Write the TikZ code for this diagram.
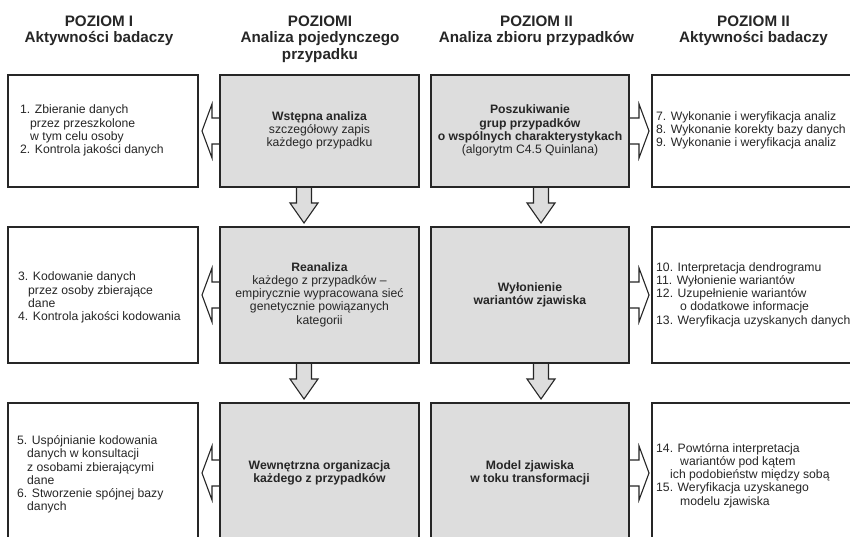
\documentclass[tikz,border=0pt]{standalone}
\usepackage{fontspec}
\setmainfont{Liberation Sans}
\usetikzlibrary{calc}
\pgfdeclarelayer{bg}
\pgfsetlayers{bg,main}
\definecolor{boxgray}{HTML}{DDDDDD}
\definecolor{edgecol}{HTML}{262626}
\setlength{\lineskiplimit}{-20pt}
\newcommand{\bodyfont}{\fontsize{12.2}{13.3}\selectfont}
\tikzset{
  panel/.style={draw=edgecol, line width=1.8pt, inner sep=0pt, outer sep=0pt, anchor=north west},
  whitepanel/.style={panel, fill=white},
  graypanel/.style={panel, fill=boxgray},
  hdr/.style={font=\fontsize{15.2}{16.5}\selectfont\bfseries, align=center, anchor=north, inner sep=0pt, text=edgecol, yshift=11.55pt},
  listtxt/.style={font=\bodyfont, align=left, anchor=west, inner sep=0pt, text=edgecol},
  midtxt/.style={font=\bodyfont, align=center, anchor=center, inner sep=0pt, text=edgecol},
  sidearrow/.style={draw=edgecol, line width=1.1pt, fill=white, line join=miter},
  downarrow/.style={draw=edgecol, line width=1.1pt, fill=boxgray, line join=miter},
}
\begin{document}
\begin{tikzpicture}[x=1pt,y=-1pt]
\useasboundingbox (0,0) rectangle (850,536);
\clip (0,0) rectangle (850,536);
\begin{pgfonlayer}{bg}
\fill[white] (0,0) rectangle (850,536);
\end{pgfonlayer}

% headers
\node[hdr] (h1) at (99,26) {\strut POZIOM I\\Aktywności badaczy};
\node[hdr] (h2) at (320,26) {\strut POZIOMI\\Analiza pojedynczego\\przypadku};
\node[hdr] (h3) at (536.5,26) {\strut POZIOM II\\Analiza zbioru przypadków};
\node[hdr] (h4) at (753.5,26) {\strut POZIOM II\\Aktywności badaczy};

% panels
\node[whitepanel, minimum width=190pt, minimum height=112pt] (a1) at (8,75) {};
\node[graypanel,  minimum width=199pt, minimum height=112pt] (b1) at (220,75) {};
\node[graypanel,  minimum width=198pt, minimum height=112pt] (c1) at (431,75) {};
\node[whitepanel, minimum width=220pt, minimum height=112pt] (d1) at (652,75) {};

\node[whitepanel, minimum width=190pt, minimum height=136pt] (a2) at (8,227) {};
\node[graypanel,  minimum width=199pt, minimum height=136pt] (b2) at (220,227) {};
\node[graypanel,  minimum width=198pt, minimum height=136pt] (c2) at (431,227) {};
\node[whitepanel, minimum width=220pt, minimum height=136pt] (d2) at (652,227) {};

\node[whitepanel, minimum width=190pt, minimum height=140pt] (a3) at (8,403) {};
\node[graypanel,  minimum width=199pt, minimum height=140pt] (b3) at (220,403) {};
\node[graypanel,  minimum width=198pt, minimum height=140pt] (c3) at (431,403) {};
\node[whitepanel, minimum width=220pt, minimum height=140pt] (d3) at (652,403) {};

% arrows
\begin{pgfonlayer}{bg}
\foreach \r in {1,2,3} {
  \filldraw[sidearrow] ($(b\r.west)+(0,-13)$) -- ++(-8,0) -- ++(0,-14) -- ++(-10,27) -- ++(10,27) -- ++(0,-14) -- ++(8,0);
  \filldraw[sidearrow] ($(c\r.east)+(0,-13)$) -- ++(10,0) -- ++(0,-14) -- ++(10,27) -- ++(-10,27) -- ++(0,-14) -- ++(-10,0);
}
\filldraw[downarrow] ($(b1.south)+(-23,0)$) -- ++(0,16) -- ++(-6.5,0) -- ++(14,20) -- ++(14,-20) -- ++(-6.5,0) -- ++(0,-16);
\filldraw[downarrow] ($(b2.south)+(-23,0)$) -- ++(0,16) -- ++(-6.5,0) -- ++(14,20) -- ++(14,-20) -- ++(-6.5,0) -- ++(0,-16);
\filldraw[downarrow] ($(c1.south)+(3.5,0)$) -- ++(0,16) -- ++(-6.5,0) -- ++(14,20) -- ++(14,-20) -- ++(-6.5,0) -- ++(0,-16);
\filldraw[downarrow] ($(c2.south)+(3.5,0)$) -- ++(0,16) -- ++(-6.5,0) -- ++(14,20) -- ++(14,-20) -- ++(-6.5,0) -- ++(0,-16);
\end{pgfonlayer}

% texts row 1
\node[listtxt] (ta1) at ($(a1.west)+(12,0)$) {\strut 1. Zbieranie danych\\\hspace*{10pt}przez przeszkolone\\\hspace*{10pt}w tym celu osoby\\2. Kontrola jakości danych\strut};
\node[midtxt] (tb1) at (b1.center) {\strut\textbf{Wstępna analiza}\\szczegółowy zapis\\każdego przypadku\strut};
\node[midtxt] (tc1) at (c1.center) {\strut\textbf{Poszukiwanie}\\\textbf{grup przypadków}\\\textbf{o wspólnych charakterystykach}\\(algorytm C4.5 Quinlana)\strut};
\node[listtxt] (td1) at ($(d1.west)+(4,0)$) {\strut 7. Wykonanie i weryfikacja analiz\\8. Wykonanie korekty bazy danych\\9. Wykonanie i weryfikacja analiz\strut};

% texts row 2
\node[listtxt] (ta2) at ($(a2.west)+(10,3)$) {\strut 3. Kodowanie danych\\\hspace*{10pt}przez osoby zbierające\\\hspace*{10pt}dane\\4. Kontrola jakości kodowania\strut};
\node[midtxt] (tb2) at (b2.center) {\strut\textbf{Reanaliza}\\każdego z przypadków –\\empirycznie wypracowana sieć\\genetycznie powiązanych\\kategorii\strut};
\node[midtxt] (tc2) at (c2.center) {\strut\textbf{Wyłonienie}\\\textbf{wariantów zjawiska}\strut};
\node[listtxt] (td2) at ($(d2.west)+(4,0)$) {\strut 10. Interpretacja dendrogramu\\11. Wyłonienie wariantów\\12. Uzupełnienie wariantów\\\hspace*{24pt}o dodatkowe informacje\\13. Weryfikacja uzyskanych danych\strut};

% texts row 3
\node[listtxt] (ta3) at ($(a3.west)+(9,2)$) {\strut 5. Uspójnianie kodowania\\\hspace*{10pt}danych w konsultacji\\\hspace*{10pt}z osobami zbierającymi\\\hspace*{10pt}dane\\6. Stworzenie spójnej bazy\\\hspace*{10pt}danych\strut};
\node[midtxt] (tb3) at (b3.center) {\strut\textbf{Wewnętrzna organizacja}\\\textbf{każdego z przypadków}\strut};
\node[midtxt] (tc3) at (c3.center) {\strut\textbf{Model zjawiska}\\\textbf{w toku transformacji}\strut};
\node[listtxt] (td3) at ($(d3.west)+(4,3)$) {\strut 14. Powtórna interpretacja\\\hspace*{24pt}wariantów pod kątem\\\hspace*{14pt}ich podobieństw między sobą\\15. Weryfikacja uzyskanego\\\hspace*{24pt}modelu zjawiska\strut};
\end{tikzpicture}
\end{document}
